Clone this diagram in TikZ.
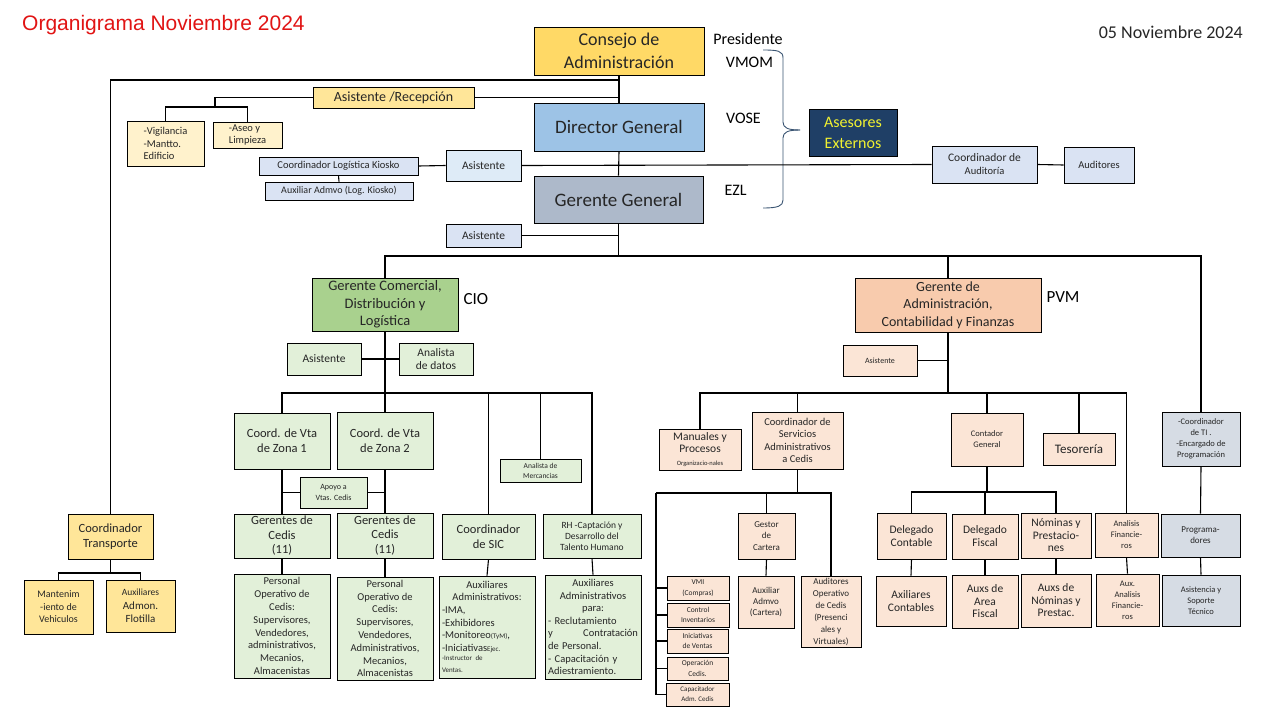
\documentclass[tikz,border=0pt]{standalone}
\usepackage{fontspec}
\setmainfont{Carlito}
\newfontfamily\arialfont{Liberation Sans}
\usetikzlibrary{positioning}

\definecolor{oro}{HTML}{FFD966}
\definecolor{oroclaro}{HTML}{FFE699}
\definecolor{crema}{HTML}{FFF2CC}
\definecolor{azuldir}{HTML}{9DC3E6}
\definecolor{grisger}{HTML}{ADB9CA}
\definecolor{azulclaro}{HTML}{DAE3F3}
\definecolor{azulpalido}{HTML}{DEEBF7}
\definecolor{marino}{HTML}{1F3F66}
\definecolor{amarillo}{HTML}{F2F230}
\definecolor{verde}{HTML}{A9D18E}
\definecolor{verdeclaro}{HTML}{E2F0D9}
\definecolor{durazno}{HTML}{F8CBAD}
\definecolor{duraznoclaro}{HTML}{FBE5D6}
\definecolor{gristi}{HTML}{D6DCE4}
\definecolor{rojotit}{HTML}{E11414}
\definecolor{txtgris}{HTML}{262626}
\definecolor{llave}{HTML}{3B5573}

\newcommand{\tam}[2]{\fontsize{#1}{#2}\selectfont}

\tikzset{
	caja/.style={draw=black,line width=0.8pt,align=center,inner sep=1pt,text=txtgris},
	linea/.style={line width=1.1pt,black},
	puesto/.style={text=black,inner sep=0pt,font=\tam{16}{19}}
}

\begin{document}
\begin{tikzpicture}[x=1pt,y=-1pt]
	\fill[white] (0,0) rectangle (1280,720);
	\useasboundingbox (0,0) rectangle (1280,720);

	\node[anchor=west,text=rojotit,font=\arialfont\tam{21}{25},inner sep=0pt] (titulo) at (22,25) {Organigrama Noviembre 2024};
	\node[anchor=east,text=txtgris,font=\tam{18}{21},inner sep=0pt] (fecha) at (1243,32) {05 Noviembre 2024};

	\node[caja,fill=oro,minimum width=170pt,minimum height=48pt,font=\tam{18}{23}] (consejo) at (619,51) {Consejo de\\Administración};
	\node[caja,fill=azuldir,minimum width=170pt,minimum height=48pt,font=\tam{19}{23}] (director) at (619,127) {Director General};
	\node[caja,fill=grisger,minimum width=169pt,minimum height=47pt,font=\tam{19}{23}] (gerente) at (618.5,199.5) {Gerente General};
	\node[caja,fill=marino,text=amarillo,minimum width=88pt,minimum height=47pt,font=\tam{16}{21}] (asesores) at (853,132.5) {Asesores\\Externos};

	\node[puesto] (presidente) at (748,39) {Presidente};
	\node[puesto] (vmom) at (749.5,62) {VMOM};
	\node[puesto] (vose) at (743.5,118) {VOSE};
	\node[puesto] (ezl) at (735.5,190) {EZL};

	\draw[llave,line width=0.9pt] (763,50) .. controls (778,50) and (783,51) .. (783,58) -- (783,122) .. controls (783,128) and (788,130) .. (800,130);
	\draw[llave,line width=0.9pt] (800,130) .. controls (788,130) and (783,132) .. (783,138) -- (783,200) .. controls (783,206) and (778,208) .. (763,208);

	\node[caja,fill=oroclaro,minimum width=161pt,minimum height=21pt,font=\tam{14}{16}] (recepcion) at (393.5,97.5) {Asistente /Recepción};
	\node[caja,fill=crema,minimum width=77pt,minimum height=45pt,align=left,font=\tam{10.5}{12.5}] (vigilancia) at (165.5,143.5) {-Vigilancia\\-Mantto.\\Edificio};
	\node[caja,fill=crema,minimum width=69pt,minimum height=26pt,align=left,font=\tam{10.5}{12}] (aseo) at (247.5,135) {-Aseo y\\Limpieza};

	\node[caja,fill=azulclaro,minimum width=159pt,minimum height=18pt,font=\tam{10.5}{12}] (coordkiosko) at (338.5,166) {Coordinador Logística Kiosko};
	\node[caja,fill=azulclaro,minimum width=148pt,minimum height=18pt,font=\tam{10}{12}] (auxkiosko) at (339,191) {Auxiliar Admvo (Log. Kiosko)};
	\node[caja,fill=azulpalido,minimum width=75pt,minimum height=31pt,font=\tam{11.5}{14}] (asistA) at (483.5,165.5) {Asistente};
	\node[caja,fill=azulclaro,minimum width=75pt,minimum height=23pt,font=\tam{11.5}{14}] (asistB) at (483.5,235.5) {Asistente};
	\node[caja,fill=azulclaro,minimum width=105pt,minimum height=37pt,font=\tam{11.5}{13}] (coordaud) at (984.5,164.5) {Coordinador de\\{\tam{10.5}{13}Auditoría}};
	\node[caja,fill=azulclaro,minimum width=70pt,minimum height=36pt,font=\tam{10.5}{13}] (auditores) at (1099,165) {Auditores};

	\node[caja,fill=oroclaro,minimum width=85pt,minimum height=45pt,font=\tam{12.5}{14.5}] (transporte) at (110.5,536.5) {Coordinador\\Transporte};
	\node[caja,fill=oroclaro,minimum width=69pt,minimum height=54pt,font=\tam{10}{12.5}] (manten) at (58.5,607) {Mantenim\\-iento de\\Vehiculos};
	\node[caja,fill=oroclaro,minimum width=69pt,minimum height=52pt,font=\tam{11}{13.5}] (flotilla) at (140.5,606) {{\tam{9.5}{12}Auxiliares}\\Admon.\\Flotilla};

	\node[caja,fill=verde,minimum width=146pt,minimum height=53pt,font=\tam{14.5}{17.5}] (comercial) at (385,304.5) {Gerente Comercial,\\Distribución y\\Logística};
	\node[puesto,font=\tam{17}{20},right=5pt of comercial.east,yshift=5.5pt] (cio) {CIO};
	\node[caja,fill=verdeclaro,minimum width=74pt,minimum height=32pt,font=\tam{11.5}{13}] (asistC) at (324,359) {Asistente};
	\node[caja,fill=verdeclaro,minimum width=74pt,minimum height=32pt,font=\tam{11.5}{13}] (analistaD) at (436,359) {Analista\\de datos};

	\node[caja,fill=verdeclaro,minimum width=96pt,minimum height=56pt,font=\tam{12.5}{15}] (zona1) at (282,441) {Coord. de Vta\\de Zona 1};
	\node[caja,fill=verdeclaro,minimum width=96pt,minimum height=57pt,font=\tam{12.5}{15}] (zona2) at (385,440.5) {Coord. de Vta\\de Zona 2};
	\node[caja,fill=verdeclaro,minimum width=67pt,minimum height=31pt,font=\tam{8}{11}] (apoyo) at (333.5,492.5) {Apoyo a\\Vtas. Cedis};
	\node[caja,fill=verdeclaro,minimum width=81pt,minimum height=23pt,font=\tam{7.5}{10}] (mercancias) at (540.5,470.5) {Analista de\\Mercancias};
	\node[caja,fill=verdeclaro,minimum width=96pt,minimum height=44pt,font=\tam{12.5}{14.5}] (cedis1) at (282,536) {Gerentes de\\Cedis\\(11)};
	\node[caja,fill=verdeclaro,minimum width=96pt,minimum height=45pt,font=\tam{12.5}{14.5}] (cedis2) at (385,535.5) {Gerentes de\\Cedis\\(11)};
	\node[caja,fill=verdeclaro,minimum width=93pt,minimum height=45pt,font=\tam{12.5}{15}] (sic) at (488.5,536.5) {Coordinador\\de SIC};
	\node[caja,fill=verdeclaro,minimum width=98pt,minimum height=44pt,font=\tam{9.5}{11}] (rh) at (592,536) {RH -Captación y\\Desarrollo del\\Talento Humano};
	\node[caja,fill=verdeclaro,minimum width=96pt,minimum height=104pt,font=\tam{10.5}{12.8}] (personal1) at (282,626) {Personal\\Operativo de\\Cedis:\\Supervisores,\\Vendedores,\\administrativos,\\Mecanios,\\Almacenistas};
	\node[caja,fill=verdeclaro,minimum width=96pt,minimum height=103pt,font=\tam{10.5}{12.8}] (personal2) at (385,628.5) {Personal\\Operativo de\\Cedis:\\Supervisores,\\Vendedores,\\Administrativos,\\Mecanios,\\Almacenistas};
	\node[caja,fill=verdeclaro,minimum width=96pt,minimum height=102pt,text width=90pt,align=left,font=\tam{10.5}{12.6}] (auxsic) at (487,627) {{\centering Auxiliares\\Administrativos:\par}-IMA,\\-Exhibidores\\-Monitoreo{\tam{7}{9}(TyM)},\\-Iniciativas{\tam{7}{9}Ejec.}\\{\tam{7}{9}-Instructor de\\Ventas.}};
	\node[caja,fill=verdeclaro,minimum width=96pt,minimum height=104pt,text width=90pt,align=left,font=\tam{10.5}{12.6}] (auxrh) at (593,627) {{\centering Auxiliares\\Administrativos\\para:\par}-\ Reclutamiento\\y\hfill Contratación\\de Personal.\\- Capacitación y\\Adiestramiento.};

	\node[caja,fill=durazno,minimum width=186pt,minimum height=54pt,font=\tam{14}{17.5}] (admin) at (948,305) {Gerente de\\Administración,\\Contabilidad y Finanzas};
	\node[puesto,font=\tam{17}{20},right=5pt of admin.east,yshift=8pt] (pvm) {PVM};
	\node[caja,fill=duraznoclaro,minimum width=74pt,minimum height=31pt,font=\tam{8}{10}] (asistD) at (880,360.5) {Asistente};

	\node[caja,fill=duraznoclaro,minimum width=82pt,minimum height=41pt,font=\tam{11.5}{12.5}] (manuales) at (700,449.5) {Manuales y\\Procesos\\{\tam{6.5}{8}Organizacio-nales}};
	\node[caja,fill=duraznoclaro,minimum width=91pt,minimum height=57pt,font=\tam{10.5}{12.5}] (servicios) at (797.5,440.5) {Coordinador de\\Servicios\\Administrativos\\a Cedis};
	\node[caja,fill=duraznoclaro,minimum width=57pt,minimum height=46pt,font=\tam{9}{11.5}] (gestor) at (766.5,536) {Gestor\\de\\Cartera};
	\node[caja,fill=duraznoclaro,minimum width=56pt,minimum height=52pt,font=\tam{9}{11}] (auxcartera) at (766,602) {Auxiliar\\Admvo\\(Cartera)};
	\node[caja,fill=duraznoclaro,minimum width=60pt,minimum height=71pt,font=\tam{9}{12}] (audop) at (831,611.5) {Auditores\\Operativo\\de Cedis\\(Presenci\\ales y\\Virtuales)};
	\node[caja,fill=duraznoclaro,minimum width=62pt,minimum height=24pt,font=\tam{7.5}{10.5}] (vmi) at (698,588) {VMI\\(Compras)};
	\node[caja,fill=duraznoclaro,minimum width=62pt,minimum height=24pt,font=\tam{7.5}{10.5}] (inventarios) at (698,615) {Control\\Inventarios};
	\node[caja,fill=duraznoclaro,minimum width=61pt,minimum height=24pt,font=\tam{7.5}{10.5}] (iniciativas) at (697.5,641) {Iniciativas\\de Ventas};
	\node[caja,fill=duraznoclaro,minimum width=61pt,minimum height=23pt,font=\tam{7.5}{10.5}] (operacion) at (697.5,668.5) {Operación\\Cedis.};
	\node[caja,fill=duraznoclaro,minimum width=63pt,minimum height=23pt,font=\tam{7}{10}] (capacitador) at (697.5,694.5) {Capacitador\\Adm. Cedis};

	\node[caja,fill=duraznoclaro,minimum width=72pt,minimum height=53pt,font=\tam{8.5}{11}] (contador) at (987,439.5) {Contador\\General};
	\node[caja,fill=duraznoclaro,minimum width=72pt,minimum height=32pt,font=\tam{13}{15}] (tesoreria) at (1079,449) {Tesorería};
	\node[caja,fill=duraznoclaro,minimum width=69pt,minimum height=46pt,font=\tam{11.5}{12.5}] (delcontable) at (911.5,536) {Delegado\\Contable};
	\node[caja,fill=duraznoclaro,minimum width=66pt,minimum height=45pt,font=\tam{11.5}{13}] (delfiscal) at (985,536.5) {Delegado\\Fiscal};
	\node[caja,fill=duraznoclaro,minimum width=70pt,minimum height=45pt,font=\tam{11.5}{12.5}] (nominas) at (1056,535.5) {Nóminas y\\Prestacio-\\nes};
	\node[caja,fill=duraznoclaro,minimum width=63pt,minimum height=44pt,font=\tam{8.5}{11}] (analisis) at (1126.5,535) {Analisis\\Financie-\\ros};
	\node[caja,fill=duraznoclaro,minimum width=70pt,minimum height=50pt,font=\tam{11.5}{13}] (axcontables) at (911,601) {Axiliares\\Contables};
	\node[caja,fill=duraznoclaro,minimum width=66pt,minimum height=53pt,font=\tam{11.5}{12.5}] (auxfiscal) at (985,601.5) {Auxs de\\Area\\Fiscal};
	\node[caja,fill=duraznoclaro,minimum width=70pt,minimum height=53pt,font=\tam{11.5}{12.5}] (auxnominas) at (1056,600.5) {Auxs de\\Nóminas y\\Prestac.};
	\node[caja,fill=duraznoclaro,minimum width=63pt,minimum height=52pt,font=\tam{8.5}{11}] (auxanalisis) at (1127.5,600) {Aux.\\Analisis\\Financie-\\ros};

	\node[caja,fill=gristi,minimum width=78pt,minimum height=54pt,font=\tam{8.5}{11}] (ti) at (1201,439) {-Coordinador\\de TI .\\-Encargado de\\Programación};
	\node[caja,fill=gristi,minimum width=79pt,minimum height=43pt,font=\tam{9}{11}] (programadores) at (1200.5,535.5) {Programa-\\dores};
	\node[caja,fill=gristi,minimum width=78pt,minimum height=51pt,font=\tam{8.5}{11}] (soporte) at (1201,600.5) {Asistencia y\\Soporte\\Técnico};

	\coordinate (jconsejo) at (619,80);
	\coordinate (jaseo) at (215,107);
	\coordinate (busgg) at (618.5,256);
	\coordinate (buscom) at (385,393);
	\coordinate (busadm) at (948,393);
	\coordinate (busserv) at (656,493);
	\coordinate (buscont) at (987,492);
	\coordinate (bustrans) at (110.5,573);

	\draw[linea] (consejo.south) -- (director.north);
	\draw[linea] (jconsejo) -| (transporte.north);
	\draw[linea] (recepcion.east) -- (recepcion.east -| consejo.south);
	\draw[linea] (recepcion.west) -| (jaseo);
	\draw[linea] (vigilancia.north) |- (aseo.north |- jaseo) -- (aseo.north);
	\draw[linea] (director.south) -- (gerente.north);
	\draw[linea] (coordkiosko.east) -- (asistA.west);
	\draw[linea] (coordkiosko.south) -- (auxkiosko.north);
	\draw[linea] (asistA.east) -- (coordaud.west);
	\draw[linea] (coordaud.east) -- (auditores.west);
	\draw[linea] (asistB.east) -- (asistB.east -| gerente.south);
	\draw[linea] (gerente.south) -- (busgg);
	\draw[linea] (comercial.north) |- (ti.north |- busgg) -- (ti.north);
	\draw[linea] (admin.north) -- (admin.north |- busgg);

	\draw[linea] (transporte.south) -- (bustrans);
	\draw[linea] (manten.north) |- (flotilla.north |- bustrans) -- (flotilla.north);

	\draw[linea] (comercial.south) -- (buscom);
	\draw[linea] (asistC.east) -- (analistaD.west);
	\draw[linea] (zona1.north) |- (rh.north |- buscom) -- (rh.north);
	\draw[linea] (zona2.north) -- (buscom);
	\draw[linea] (sic.north) -- (sic.north |- buscom);
	\draw[linea] (mercancias.north) -- (mercancias.north |- buscom);
	\draw[linea] (zona1.south) -- (cedis1.north);
	\draw[linea] (zona2.south) -- (cedis2.north);
	\draw[linea] (apoyo.west) -- (apoyo.west -| zona1.south);
	\draw[linea] (apoyo.east) -- (apoyo.east -| zona2.south);
	\draw[linea] (cedis1.south) -- (personal1.north);
	\draw[linea] (cedis2.south) -- (personal2.north);
	\draw[linea] (sic.south) -- (auxsic.north);
	\draw[linea] (rh.south) -- (auxrh.north);

	\draw[linea] (admin.south) -- (busadm);
	\draw[linea] (asistD.east) -- (asistD.east -| admin.south);
	\draw[linea] (manuales.north) |- (analisis.north |- busadm) -- (analisis.north);
	\draw[linea] (servicios.north) -- (servicios.north |- busadm);
	\draw[linea] (contador.north) -- (contador.north |- busadm);
	\draw[linea] (tesoreria.north) -- (tesoreria.north |- busadm);

	\draw[linea] (servicios.south) -- (servicios.south |- busserv);
	\draw[linea] (busserv) -| (audop.north);
	\draw[linea] (gestor.north) -- (gestor.north |- busserv);
	\draw[linea] (busserv) |- (capacitador.west);
	\draw[linea] (vmi.west) -- (vmi.west -| busserv);
	\draw[linea] (inventarios.west) -- (inventarios.west -| busserv);
	\draw[linea] (iniciativas.west) -- (iniciativas.west -| busserv);
	\draw[linea] (operacion.west) -- (operacion.west -| busserv);
	\draw[linea] (gestor.south) -- (auxcartera.north);

	\draw[linea] (contador.south) -- (buscont);
	\draw[linea] (delcontable.north) |- (nominas.north |- buscont) -- (nominas.north);
	\draw[linea] (delfiscal.north) -- (delfiscal.north |- buscont);
	\draw[linea] (delcontable.south) -- (axcontables.north);
	\draw[linea] (delfiscal.south) -- (auxfiscal.north);
	\draw[linea] (nominas.south) -- (auxnominas.north);
	\draw[linea] (analisis.south) -- (auxanalisis.north);
	\draw[linea] (ti.south) -- (programadores.north);
	\draw[linea] (programadores.south) -- (soporte.north);
\end{tikzpicture}
\end{document}
